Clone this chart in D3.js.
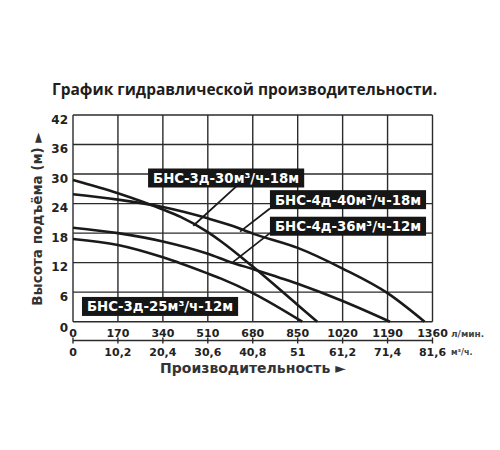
<!DOCTYPE html>
<html>
<head>
<meta charset="utf-8">
<script src="https://cdn.jsdelivr.net/npm/d3@7"></script>
<style>
  body { margin: 0; background: #fff; }
  .grid { stroke: #2b2b2b; stroke-width: 1.4; }
  .curve { fill: none; stroke: #1a1a1a; stroke-width: 2.6; }
  .leader { stroke: #1a1a1a; stroke-width: 1.8; }
  .tick-label { font-family: "DejaVu Sans", sans-serif; font-weight: bold; fill: #222; }
  .tag-text { font-family: "DejaVu Sans", sans-serif; font-weight: bold; font-size: 13.3px; fill: #fff; }
</style>
</head>
<body>
<svg id="chart" width="500" height="450"></svg>
<script>
// axis ticks
var flowTicks = [0, 170, 340, 510, 680, 850, 1020, 1190, 1360];
var flowM3Labels = ['0', '10,2', '20,4', '30,6', '40,8', '51', '61,2', '71,4', '81,6'];
var headTicks = [0, 6, 12, 18, 24, 30, 36, 42];

// pump curves: flow in l/min, head in m
var names = ['БНС-3д-30м³/ч-18м', 'БНС-4д-40м³/ч-18м', 'БНС-4д-36м³/ч-12м', 'БНС-3д-25м³/ч-12м'];
var flow30 = [0, 170, 340, 407, 510, 558, 680, 850, 924];
var head30 = [28.8, 26.1, 22.8, 21.3, 18.2, 16.4, 11.2, 3.4, 0];
var flow40 = [0, 170, 340, 510, 596, 680, 850, 1020, 1190, 1330];
var head40 = [25.9, 24.8, 23.3, 21.0, 19.6, 17.9, 15.0, 10.8, 5.8, 0];
var flow36 = [0, 170, 340, 510, 596, 680, 850, 1020, 1199];
var head36 = [19.1, 18.0, 16.3, 13.8, 12.1, 10.7, 7.7, 4.2, 0];
var flow25 = [0, 170, 340, 510, 558, 680, 867];
var head25 = [16.8, 15.6, 13.1, 9.8, 8.8, 5.8, 0];

// tag boxes: left edge (l/min), middle (m); leader from / to (l/min, m)
var tagLeft = [284, 745, 745, 34];
var tagMid = [29.2, 24.8, 19.4, 3.1];
var leaderFrom = [[624, 27.8], [745, 23.0], [745, 18.0], null];
var leaderTo = [[455, 19.5], [632, 18.3], [605, 12.1], null];

var svg = d3.select('#chart');
var x = d3.scaleLinear().domain([0, 1360]).range([73, 432.5]);
var y = d3.scaleLinear().domain([0, 42]).range([321.7, 115]);

svg.append('text')
  .attr('x', 52).attr('y', 95)
  .style('font-family', '"Open Sans", sans-serif').style('font-weight', 'bold')
  .style('font-size', '15.5px').style('fill', '#1e1e1e')
  .text('График гидравлической производительности.');

// grid
svg.selectAll('.vgrid').data(flowTicks).enter().append('line')
  .attr('class', 'grid')
  .attr('x1', function(d) { return x(d); }).attr('x2', function(d) { return x(d); })
  .attr('y1', y(42)).attr('y2', y(0));
svg.selectAll('.hgrid').data(headTicks).enter().append('line')
  .attr('class', 'grid')
  .attr('x1', x(0)).attr('x2', x(1360))
  .attr('y1', function(d) { return y(d); }).attr('y2', function(d) { return y(d); });

// curves
var line = d3.line()
  .x(function(d) { return x(d[0]); })
  .y(function(d) { return y(d[1]); })
  .curve(d3.curveMonotoneX);
[[flow30, head30], [flow40, head40], [flow36, head36], [flow25, head25]].forEach(function(s) {
  svg.append('path').attr('class', 'curve').attr('d', line(d3.zip(s[0], s[1])));
});

// leaders and tags
names.forEach(function(name, i) {
  if (leaderFrom[i]) {
    svg.append('line').attr('class', 'leader')
      .attr('x1', x(leaderFrom[i][0])).attr('y1', y(leaderFrom[i][1]))
      .attr('x2', x(leaderTo[i][0])).attr('y2', y(leaderTo[i][1]));
  }
  var g = svg.append('g').attr('transform', 'translate(' + x(tagLeft[i]) + ',' + y(tagMid[i]) + ')');
  var t = g.append('text').attr('class', 'tag-text').attr('x', 5).attr('y', 5).text(name);
  var w = t.node().getComputedTextLength();
  g.insert('rect', 'text').attr('x', 0).attr('y', -9.5).attr('width', w + 10).attr('height', 19).attr('fill', '#161616');
});

// y tick labels
svg.selectAll('.ylab').data(headTicks).enter().append('text')
  .attr('class', 'tick-label').style('font-size', '12px')
  .attr('text-anchor', 'end').attr('x', 68)
  .attr('y', function(d) { return y(d) + (d === 0 ? 10.5 : 8.5); })
  .text(String);

// x tick labels, l/min
svg.selectAll('.xlab').data(flowTicks).enter().append('text')
  .attr('class', 'tick-label').style('font-size', '11px')
  .attr('text-anchor', 'middle')
  .attr('x', function(d) { return x(d); }).attr('y', 336.5)
  .text(String);

// second axis, m3/h
svg.append('line').attr('class', 'grid')
  .attr('x1', x(0)).attr('x2', x(1360)).attr('y1', 340.5).attr('y2', 340.5);
svg.selectAll('.x2tick').data(flowTicks).enter().append('line')
  .attr('class', 'grid')
  .attr('x1', function(d) { return x(d); }).attr('x2', function(d) { return x(d); })
  .attr('y1', 337.5).attr('y2', 343.5);
svg.selectAll('.x2lab').data(flowTicks).enter().append('text')
  .attr('class', 'tick-label').style('font-size', '11px')
  .attr('text-anchor', 'middle')
  .attr('x', function(d) { return x(d); }).attr('y', 356)
  .text(function(d, i) { return flowM3Labels[i]; });

svg.append('text').attr('class', 'tick-label')
  .attr('x', 451).attr('y', 336.5).style('font-size', '9px').style('fill', '#444')
  .text('л/мин.');
svg.append('text').attr('class', 'tick-label')
  .attr('x', 451).attr('y', 355).style('font-size', '8px').style('fill', '#444')
  .text('м³/ч.');

// axis titles
svg.append('text').attr('class', 'tick-label')
  .attr('x', 253).attr('y', 373).attr('text-anchor', 'middle')
  .style('font-size', '14px').style('fill', '#333')
  .text('Производительность ►');
svg.append('text').attr('class', 'tick-label')
  .attr('transform', 'translate(42,219) rotate(-90)').attr('text-anchor', 'middle')
  .style('font-size', '13.5px').style('fill', '#333')
  .text('Высота подъёма (м) ►');
</script>
</body>
</html>
